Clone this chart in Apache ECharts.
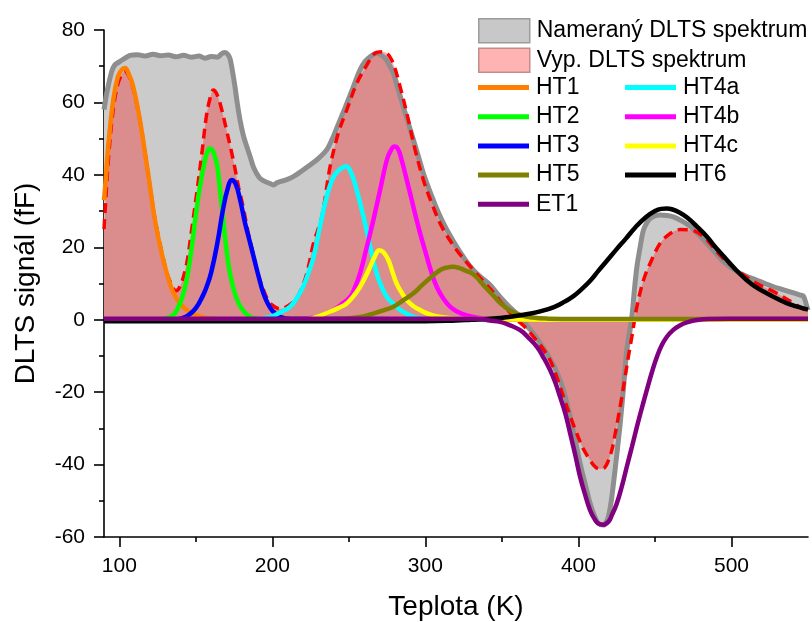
<!DOCTYPE html>
<html>
<head>
<meta charset="utf-8">
<script src="https://cdn.jsdelivr.net/npm/echarts@6/dist/echarts.min.js"></script>
<style>
html,body{margin:0;padding:0;background:#fff;}
#chart{width:812px;height:622px;}
</style>
</head>
<body>
<div id="chart"></div>
<script>
// ---- data: [Teplota K, DLTS signal fF] ----
const xMajorTicks = [100, 200, 300, 400, 500];
const xMinorTicks = [150, 250, 350, 450];

const measured = [[90,58],[92,63],[95,68.5],[97,70.3],[100,71.2],[103,72],[107,73],[112,73.2],[117,72.8],[122,73.3],[127,72.9],[132,73.1],[137,72.6],[142,73],[147,72.5],[152,72.8],[156,72.2],[160,72.7],[164,72.5],[167,73.5],[169,73.8],[171,73.2],[172.4,72],[174,68.5],[175.6,64.3],[177,60],[178.9,55.1],[181,51],[183.3,47.8],[185.5,45],[187.6,42.2],[190,40.2],[192,39],[195,38.2],[198.5,37.6],[200.7,37.2],[203,37.8],[205,38.1],[209,38.6],[213.7,39.5],[219,41],[224.6,42.7],[230,44.5],[235.5,46.9],[238.8,49.6],[241.5,52.3],[244.2,55.1],[247.5,58.5],[250.8,62],[254,65.5],[257.3,69],[260.5,71.3],[263.9,72.6],[268.2,73.6],[270.5,73.2],[273.7,72.2],[276.5,70.3],[279.1,68],[282.3,63.5],[285.6,58.8],[288.9,54.2],[292.2,49.6],[295.5,45],[298.7,40.4],[302,36.5],[305.2,33],[308.5,29.6],[311.8,26.6],[316,23.3],[320.5,20.1],[326,16.6],[331.4,13.7],[337,11.5],[342.3,9.6],[348.8,6.3],[355,3.5],[361.9,0.8],[366,-1.5],[370.6,-3.8],[375,-6.5],[379.3,-9.3],[384,-12.8],[388,-16.7],[391.5,-21.5],[394.6,-26.8],[398,-33.5],[401.1,-39.7],[404.5,-45.5],[407.6,-50.7],[410.5,-54.2],[413.1,-56.3],[416.3,-56.7],[418,-56],[419.6,-54.4],[421.3,-50.5],[422.9,-45.2],[425,-37.5],[427.3,-28.6],[429.5,-18.5],[431.6,-8.4],[434.9,0.8],[436.5,8],[438.2,14.6],[440.3,20],[442.5,24.8],[444.7,26.8],[446.9,28],[450,28.7],[453.4,28.9],[458,28.8],[462.1,28.4],[467.5,27.3],[473.2,25.7],[478.5,23.5],[483.9,21.1],[489.5,18.5],[494.9,16],[500,14.3],[505.7,12.8],[511,11.8],[516.6,10.9],[522,10],[527.5,9.1],[533,8.4],[538.3,7.7],[544.9,6.8],[547,6.5],[549,4],[550,2.6]];

const calculated = [[90,25],[91,32],[93,45],[96,58],[99,65],[102,68],[104,68.5],[106,67.5],[109,64],[113.5,55],[117,45.5],[120,37],[123.3,27.7],[127.7,18.8],[131,13],[134,9.8],[137,8],[140,9.5],[144,15.5],[147,24],[150.6,35],[153.8,45.5],[157,56.5],[159.5,61.5],[161.4,63.4],[163.5,62.5],[166,59.5],[170,52.5],[174.5,44],[178,36.5],[181,31],[184,24.5],[187,19],[190,13.5],[194,8.5],[197,5.5],[200,4],[205,3],[210,3.8],[215,5.5],[220,9.5],[223.5,14.5],[226.8,21],[232.3,28.4],[237.7,42.2],[243.1,51.5],[248.6,57.9],[255.2,65.3],[261.7,70.3],[267.1,73.6],[272.6,74],[278,71.7],[283.5,64.3],[288.9,55.1],[293.3,46.9],[298.7,38.6],[304.2,32.1],[310.7,25.7],[320.5,19.2],[331.4,13.7],[338,10.5],[344.5,7.5],[349,5],[354,2.6],[359.7,0],[365,-2],[370.6,-4.7],[376,-7.5],[381.5,-11.2],[386,-16],[390.2,-21.3],[394.5,-26.5],[398.9,-31.4],[403,-35.5],[407.6,-38.8],[410.9,-40.6],[413.5,-41.2],[416.3,-41.1],[419,-39.5],[421.8,-36],[424,-31.5],[426.1,-26.8],[428.3,-21.5],[430.5,-15.8],[432.7,-10],[434.9,-4.7],[438.2,3.6],[442.5,10.9],[446.9,15.6],[453.4,21.1],[460,23.8],[466.5,24.9],[473.1,24.8],[481.8,22.9],[492.6,17.8],[503.5,13.7],[516.6,10],[529.6,7.3],[542.7,4],[550,2.2]];

const ht1 = [[90,33],[91,38],[93,49],[96,60.5],[99,67],[101.5,69],[103.7,69.5],[106,68],[109,64.5],[113.5,55],[117,45.5],[120,37],[123.3,27.5],[127.7,18.3],[133,10],[136.5,6.5],[140,4.3],[144,2.7],[148,1.7],[155,0.6],[165,0.1],[200,0],[550,0]];
const ht2 = [[90,0],[125,0.1],[130,0.3],[135,1.2],[138,3],[141,6],[144,11],[147,19],[150,29],[153,37.5],[156,44],[158,46.8],[159.3,47.3],[161,46.7],[162.5,45],[164,42.5],[166,35],[168,27],[170,19.5],[172,13.5],[175,8],[178,4.5],[181,2.5],[185,0.9],[190,0.3],[200,0],[550,0]];
const ht3 = [[90,0],[135,0],[140,0.3],[145,1.2],[150,3.2],[155,7],[157,9],[160,13],[164,21],[168,31],[171,36.5],[173.4,38.6],[176,37.5],[179,33],[182,27],[185,22],[188,17],[191,12],[194,7.5],[197,4.5],[200,2.5],[205,0.8],[212,0.2],[550,0]];
const ht4a = [[90,0],[185,0],[195,0.5],[200,1],[205,2],[211.6,3.6],[216,6],[220,9],[224,13.5],[227,17.5],[231,25.5],[235.5,34],[240,39.5],[244,41.5],[248.2,42.4],[251.5,40.5],[255,36],[259.5,28.5],[264,20],[268,13],[271.5,9],[275,6.2],[280,4],[284,2.6],[292,0.8],[300,0.2],[310,0],[550,0]];
const ht4b = [[90,0],[215,0],[222,0.3],[229,0.8],[235,1.7],[240,2.7],[245,4.2],[250.8,6.3],[254,9],[257.3,12.8],[261.7,20.1],[266,27.5],[270.4,35.8],[274.8,44.1],[277.5,46.8],[279.8,47.8],[282,47.2],[284.5,44.1],[287,40],[290,34.9],[295.4,25.7],[300.9,17.4],[304,13],[307.4,9.1],[311.5,6],[316.1,3.6],[321,2.2],[327,1.2],[335,0.5],[345,0.1],[360,0],[550,0]];
const ht4c = [[90,0],[215,0],[225,0.3],[229,0.8],[237.7,2.2],[243,3.2],[248.6,4.5],[253,6.5],[257.3,9.1],[261,12],[263.9,14.6],[267,17.5],[269.9,19.2],[272.5,18.7],[275.8,16.5],[278.5,13.2],[281.2,10],[284.5,7.5],[287.8,5.4],[292,3.8],[296.5,2.7],[302,1.6],[307,1],[315,0.5],[330,0.2],[380,0],[550,0]];
const ht5 = [[90,0],[230,0],[240,0.2],[250,0.4],[260,1],[266,1.7],[272,2.5],[279.1,3.6],[285,5.2],[292.2,7.3],[298,9.6],[305.2,12.3],[310,13.8],[314,14.4],[317.9,14.6],[322,14.3],[326,13.6],[331.4,12.5],[336,10.5],[340,8.6],[344.5,6.6],[349,4.6],[355,2.6],[362,1.3],[370,0.6],[380,0.3],[400,0.2],[550,0.2]];
const ht6 = [[90,-0.4],[300,-0.4],[320,-0.2],[330,0],[340,0.2],[349,0.5],[357,0.9],[366,1.5],[375,2.3],[384,3.5],[391,5],[397,6.6],[402,8.4],[408,10.9],[413,13.5],[419,16.5],[425,19.5],[431,22.4],[437,25.4],[444,28.3],[450,30],[454,30.6],[457.7,30.7],[461,30.5],[466,29.6],[471,28.2],[477,25.9],[484,22.9],[490,19.8],[497,16.5],[503,13.7],[510,10.9],[516,9],[523,7.3],[530,5.8],[536,4.6],[543,3.6],[550,2.8]];
const et1 = [[90,0.3],[330,0.3],[336,0.2],[342,-0.2],[348.8,-0.6],[355,-1.5],[361.9,-2.9],[367,-4.8],[372.9,-7.5],[377,-10.3],[381.5,-13.9],[385,-17.5],[388,-21.3],[391.5,-26],[394.6,-31.4],[398,-37.5],[401.1,-43.4],[404.5,-48.5],[407.6,-52.6],[410.5,-55],[413.1,-56.3],[416.3,-56.6],[419.6,-55.8],[422,-53.8],[425,-50.8],[428.5,-45.8],[431.6,-40.6],[435,-35],[438.2,-29.6],[441.5,-24.3],[444.7,-19.4],[448,-14.5],[451.3,-10.2],[454.5,-7],[457.8,-4.7],[462,-2.8],[466.5,-1.5],[472,-0.6],[477.4,-0.1],[485,0.2],[550,0.3]];

const FONT = '"Liberation Sans", Arial, Helvetica, sans-serif';

const components = [
  {name:'HT1', data:ht1, color:'#ff7f00'},
  {name:'HT2', data:ht2, color:'#00ff00'},
  {name:'HT3', data:ht3, color:'#0000ff'},
  {name:'HT4a', data:ht4a, color:'#00ffff'},
  {name:'HT4b', data:ht4b, color:'#ff00ff'},
  {name:'HT4c', data:ht4c, color:'#ffff00'},
  {name:'HT5', data:ht5, color:'#808000'},
  {name:'HT6', data:ht6, color:'#000000'},
  {name:'ET1', data:et1, color:'#800080'}
];

const series = [
  {
    name:'Nameraný DLTS spektrum', type:'line', data:measured, smooth:0.35,
    showSymbol:false, color:'#c8c8c8',
    lineStyle:{color:'#8e8e8e', width:5},
    areaStyle:{color:'#cbcbcb', opacity:1}
  },
  {
    name:'Vyp. DLTS spektrum', type:'line', data:calculated, smooth:0.35,
    showSymbol:false, color:'#ffb3b3',
    lineStyle:{color:'#ff0000', width:3.5, type:[10,6]},
    areaStyle:{color:'rgba(255,0,0,0.31)', opacity:1}
  }
];
components.forEach(c => series.push({
  name:c.name, type:'line', data:c.data, smooth:0.45,
  showSymbol:false, color:c.color, lineStyle:{color:c.color, width:4.5}
}));

const legendText = {fontFamily:FONT, fontSize:23, color:'#000', lineHeight:22, padding:[0,0,0,2]};

const option = {
  animation:false,
  backgroundColor:'#ffffff',
  grid:{left:104, right:4, top:30, bottom:85, outerBoundsMode:'none', containLabel:false},
  legend:[
    {
      orient:'vertical', left:473, top:13, itemWidth:51, itemHeight:24, itemGap:4,
      selectedMode:false, textStyle:legendText,
      data:[
        {name:'Nameraný DLTS spektrum', icon:'rect', itemStyle:{color:'#c8c8c8', borderColor:'#9c9c9c', borderWidth:1.5}},
        {name:'Vyp. DLTS spektrum', icon:'rect', itemStyle:{color:'#ffb3b3', borderColor:'#c48b8b', borderWidth:1.5}}
      ]
    },
    {
      orient:'vertical', left:473, top:71, itemWidth:51, itemHeight:5, itemGap:6.2,
      selectedMode:false, textStyle:legendText, icon:'rect',
      data:['HT1','HT2','HT3','HT5','ET1']
    },
    {
      orient:'vertical', left:620, top:71, itemWidth:51, itemHeight:5, itemGap:6.2,
      selectedMode:false, textStyle:legendText, icon:'rect',
      data:['HT4a','HT4b','HT4c','HT6']
    }
  ],
  xAxis:[
    {
      type:'value', min:90, max:550, position:'bottom',
      name:'Teplota (K)', nameLocation:'middle', nameGap:56,
      nameTextStyle:{fontFamily:FONT, fontSize:28, color:'#000'},
      axisLine:{show:true, onZero:false, lineStyle:{color:'#000', width:1.6}},
      axisTick:{show:true, length:10, customValues:xMajorTicks, lineStyle:{color:'#000', width:1.6}},
      axisLabel:{show:true, customValues:xMajorTicks, margin:19, fontFamily:FONT, fontSize:21, color:'#000'},
      splitLine:{show:false}
    },
    {
      type:'value', min:90, max:550, position:'bottom',
      axisLine:{show:false, onZero:false},
      axisTick:{show:true, length:5, customValues:xMinorTicks, lineStyle:{color:'#000', width:1.6}},
      axisLabel:{show:false},
      splitLine:{show:false}
    }
  ],
  yAxis:{
    type:'value', min:-60, max:80, interval:20,
    name:'DLTS signál (fF)', nameLocation:'middle', nameGap:64,
    nameTextStyle:{fontFamily:FONT, fontSize:28, color:'#000'},
    axisLine:{show:true, onZero:false, lineStyle:{color:'#000', width:1.6}},
    axisTick:{show:true, length:10, lineStyle:{color:'#000', width:1.6}},
    minorTick:{show:true, splitNumber:2, length:5, lineStyle:{color:'#000', width:1.6}},
    axisLabel:{margin:19, fontFamily:FONT, fontSize:21, color:'#000'},
    splitLine:{show:false}
  },
  series:series
};

const chart = echarts.init(document.getElementById('chart'), null, {renderer:'canvas'});
chart.setOption(option);
</script>
</body>
</html>
